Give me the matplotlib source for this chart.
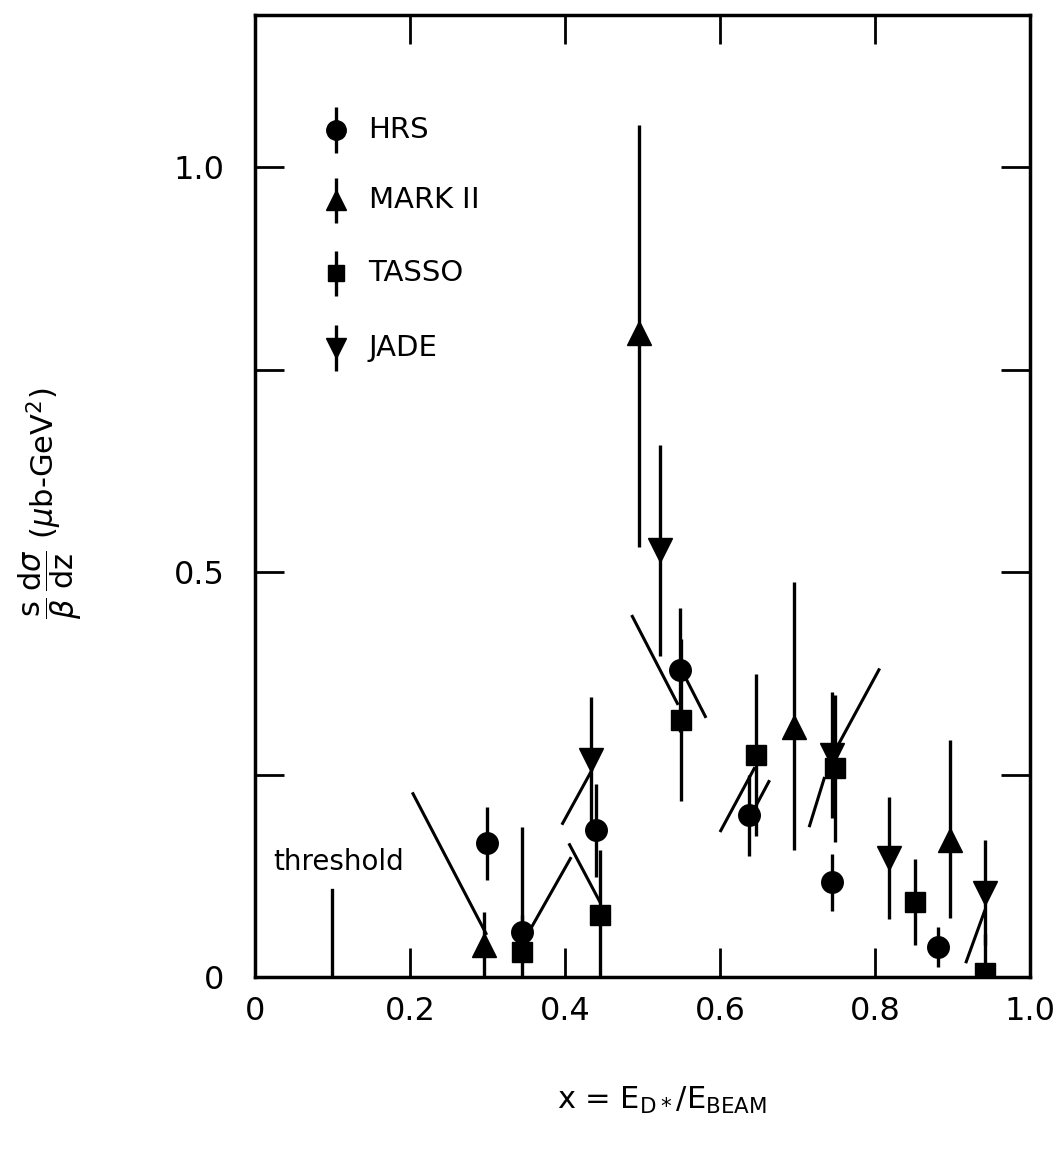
import matplotlib
matplotlib.use("Agg")
import matplotlib.pyplot as plt

plt.rcParams['font.family'] = ['DejaVu Sans']
plt.rcParams['mathtext.fontset'] = 'dejavusans'

# HRS (circles)
hrs_x = [0.300, 0.345, 0.440, 0.549, 0.638, 0.745, 0.881]
hrs_y = [0.165, 0.056, 0.181, 0.379, 0.200, 0.117, 0.037]
hrs_err = [0.045, 0.020, 0.057, 0.077, 0.050, 0.035, 0.025]

# MARK II (triangles up)
mk2_x = [0.296, 0.496, 0.696, 0.897]
mk2_y = [0.040, 0.795, 0.309, 0.169]
mk2_lo = [0.040, 0.264, 0.152, 0.096]
mk2_hi = [0.040, 0.257, 0.179, 0.124]

# TASSO (squares)
tasso_x = [0.345, 0.445, 0.550, 0.646, 0.749, 0.851, 0.942]
tasso_y = [0.031, 0.077, 0.317, 0.274, 0.258, 0.093, 0.005]
tasso_lo = [0.031, 0.077, 0.100, 0.100, 0.091, 0.053, 0.005]
tasso_hi = [0.154, 0.080, 0.100, 0.100, 0.090, 0.053, 0.048]

# JADE (triangles down)
jade_x = [0.433, 0.523, 0.745, 0.818, 0.942]
jade_y = [0.268, 0.527, 0.274, 0.147, 0.104]
jade_err = [0.078, 0.130, 0.078, 0.075, 0.065]

# slanted line segments (x0, y0, x1, y1)
seg_x0 = [0.203, 0.356, 0.405, 0.396, 0.486, 0.550, 0.600, 0.640, 0.715, 0.751, 0.917]
seg_y0 = [0.228, 0.060, 0.165, 0.188, 0.447, 0.380, 0.179, 0.200, 0.185, 0.284, 0.017]
seg_x1 = [0.299, 0.408, 0.446, 0.435, 0.546, 0.582, 0.645, 0.664, 0.735, 0.806, 0.942]
seg_y1 = [0.052, 0.148, 0.091, 0.256, 0.336, 0.320, 0.259, 0.243, 0.247, 0.381, 0.083]

threshold_x = 0.1
threshold_h = 0.107

legend_names = ['HRS', 'MARK $\\mathrm{II}$', 'TASSO', 'JADE']
legend_marks = ['o', '^', 's', 'v']
legend_y = [1.046, 0.959, 0.869, 0.777]

xticks = [0, 0.2, 0.4, 0.6, 0.8, 1.0]
xticklabels = ['0', '0.2', '0.4', '0.6', '0.8', '1.0']
yticks = [0, 0.25, 0.5, 0.75, 1.0]
yticklabels = ['0', '', '0.5', '', '1.0']

fig = plt.figure(figsize=(10.61, 11.57), dpi=100)
ax = fig.add_axes([0.2403, 0.1556, 0.7305, 0.8314])

eb = dict(fmt='none', ecolor='black', elinewidth=2.4, capsize=0)
mk = dict(linestyle='none', color='black', markeredgecolor='black')

ax.errorbar(hrs_x, hrs_y, yerr=hrs_err, **eb)
ax.plot(hrs_x, hrs_y, marker='o', markersize=15.5, **mk)

ax.errorbar(mk2_x, mk2_y, yerr=[mk2_lo, mk2_hi], **eb)
ax.plot(mk2_x, mk2_y, marker='^', markersize=17, **mk)

ax.errorbar(tasso_x, tasso_y, yerr=[tasso_lo, tasso_hi], **eb)
ax.plot(tasso_x, tasso_y, marker='s', markersize=14, **mk)

ax.errorbar(jade_x, jade_y, yerr=jade_err, **eb)
ax.plot(jade_x, jade_y, marker='v', markersize=17, **mk)

for x0, y0, x1, y1 in zip(seg_x0, seg_y0, seg_x1, seg_y1):
    ax.plot([x0, x1], [y0, y1], color='black', lw=2.2, solid_capstyle='butt')

# threshold mark
ax.plot([threshold_x, threshold_x], [0, threshold_h], color='black', lw=2.4)
ax.text(0.023, 0.142, 'threshold', fontsize=20, va='center', ha='left')

# legend drawn by hand
for name, m, ly in zip(legend_names, legend_marks, legend_y):
    ax.errorbar([0.104], [ly], yerr=[0.028], **eb)
    ax.plot([0.104], [ly], marker=m, markersize=14 if m != 's' else 12, **mk)
    ax.text(0.146, ly, name, fontsize=21, va='center', ha='left')

ax.set_xlim(0, 0.995)
ax.set_ylim(0, 1.188)
ax.set_xticks(xticks)
ax.set_xticklabels(xticklabels)
ax.set_yticks(yticks)
ax.set_yticklabels(yticklabels)
ax.tick_params(direction='in', length=21, width=2, top=True, right=True,
               labelsize=23, pad=14)
ax.tick_params(axis='y', pad=22)
for s in ax.spines.values():
    s.set_linewidth(2.5)

fig.text(662 / 1061, 1 - 1100 / 1157, r'x = E$_{\mathrm{D}*}$/E$_{\mathrm{BEAM}}$',
         fontsize=22, ha='center', va='center')
fig.text(50 / 1061, 1 - 503 / 1157,
         r'$\dfrac{\mathrm{s}}{\beta}\,\dfrac{\mathrm{d}\sigma}{\mathrm{dz}}$ ($\mu$b-GeV$^2$)',
         fontsize=22, ha='center', va='center', rotation=90)

fig.savefig('out.png', dpi=100)
